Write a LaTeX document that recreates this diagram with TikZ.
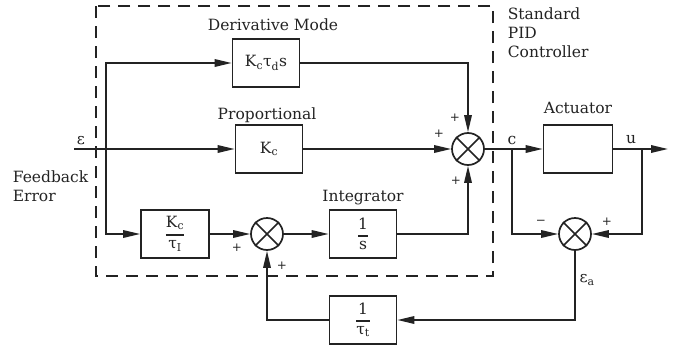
\documentclass[tikz,border=0pt]{standalone}
\usepackage{fontspec}
\setmainfont{DejaVu Serif}
\usetikzlibrary{arrows.meta}
\definecolor{ink}{RGB}{35,35,35}
\newcommand\fr[2]{$\displaystyle{\mbox{#1}\above 1.4pt\mbox{#2}}$}
\begin{document}
\begin{tikzpicture}[x=1pt,y=-1pt,
  line width=1.7pt, draw=ink, color=ink,
  blk/.style={draw, rectangle, minimum width=67pt, minimum height=48pt, inner sep=0pt,
    font=\fontsize{15.5}{18}\selectfont},
  sumnode/.style={draw, circle, minimum size=32pt, inner sep=0pt},
  lbl/.style={inner sep=0pt, font=\fontsize{15.5}{18}\selectfont},
  lbll/.style={lbl, anchor=west},
  sgn/.style={inner sep=0pt, font=\fontsize{12}{14}\selectfont},
  >={Triangle[length=17pt,width=7.5pt]}
]
\fill[white] (0,0) rectangle (680,351);
\useasboundingbox (0,0) rectangle (680,351);

% dashed controller frame
\draw[dash pattern=on 12pt off 8pt, line width=1.5pt] (96,6) rectangle (493,276);

% blocks
\node[blk] (D) at (266,63) {K\textsubscript{c}τ\textsubscript{d}s};
\node[blk] (P) at (269,149) {K\textsubscript{c}};
\node[blk, minimum width=68pt] (KI) at (175,234) {\fr{K\textsubscript{c}}{τ\textsubscript{I}}};
\node[blk] (I) at (363,234) {\fr{1}{s}};
\node[blk] (T) at (363,320) {\fr{1}{τ\textsubscript{t}}};
\node[blk, minimum width=69pt] (A) at (578,149) {};

% summing junctions
\node[sumnode] (S) at (468,149) {};
\node[sumnode] (S1) at (267,234) {};
\node[sumnode] (S2) at (575,234) {};
\foreach \s in {S,S1,S2}
  \draw (\s.45) -- (\s.225) (\s.135) -- (\s.315);

% free ends / branch points
\coordinate (e0) at (74,149);
\coordinate (br) at (106,149);
\coordinate (cb) at (512,149);
\coordinate (ub) at (642,149);
\coordinate (out) at (668,149);

% connectors
\draw[->] (e0) -- (P.west);
\draw[->] (br) |- (D.west);
\draw[->] (br) |- (KI.west);
\draw[->] (P.east) -- (S.west);
\draw[->] (D.east) -| (S.north);
\draw[->] (I.east) -| (S.south);
\draw[->] (KI.east) -- (S1.west);
\draw[->] (S1.east) -- (I.west);
\draw[->] (S.east) -- (A.west);
\draw[->] (A.east) -- (out);
\draw[->] (cb) |- (S2.west);
\draw[->] (ub) |- (S2.east);
\draw[->] (S2.south) |- (T.east);
\draw[->] (T.west) -| (S1.south);

% labels
\node[lbl] (lD) at (273,25) {Derivative Mode};
\node[lbl] (lP) at (267,115) {Proportional};
\node[lbl] (lI) at (363,198) {Integrator};
\node[lbl] (lA) at (578,108) {Actuator};
\node[lbll] (lS1) at (507,14) {Standard};
\node[lbll] (lS2) at (507,33) {PID};
\node[lbll] (lS3) at (507,52) {Controller};
\node[lbll] (lF1) at (12,177) {Feedback};
\node[lbll] (lF2) at (12,196) {Error};
\node[lbl] (leps) at (81,141) {ε};
\node[lbl] (lc) at (512,140) {c};
\node[lbl] (lu) at (631,140) {u};
\node[lbl] (lea) at (587,280) {ε\textsubscript{a}};

% signs
\node[sgn] (p1) at (455,118) {+};
\node[sgn] (p2) at (439,134) {+};
\node[sgn] (p3) at (456,181) {+};
\node[sgn] (p4) at (237,248) {+};
\node[sgn] (p5) at (282,266) {+};
\node[sgn] (m1) at (541,222) {\textminus};
\node[sgn] (p6) at (607,222) {+};
\end{tikzpicture}
\end{document}
